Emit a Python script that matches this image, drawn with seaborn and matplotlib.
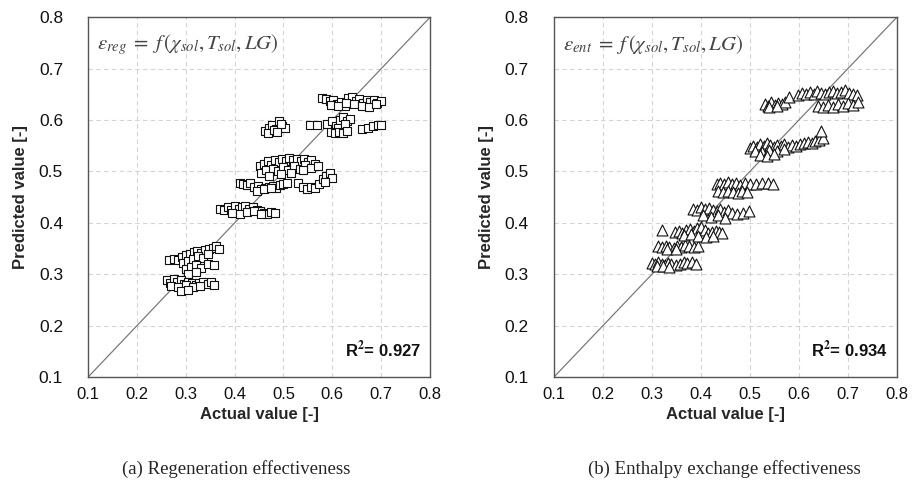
import numpy as np
import pandas as pd
import matplotlib
matplotlib.use("Agg")
import matplotlib.pyplot as plt
import seaborn as sns

# ---- Regeneration effectiveness (squares): actual vs predicted ----
reg_a_x = [0.578, 0.588, 0.595, 0.602, 0.610, 0.618, 0.625, 0.632, 0.640, 0.648, 0.655, 0.662,
           0.670, 0.678, 0.685, 0.692, 0.700, 0.598, 0.612, 0.628, 0.645, 0.660, 0.675, 0.690]
reg_a_y = [0.643, 0.641, 0.637, 0.640, 0.632, 0.636, 0.628, 0.642, 0.645, 0.638, 0.641, 0.633,
           0.640, 0.636, 0.639, 0.634, 0.637, 0.630, 0.627, 0.633, 0.631, 0.628, 0.626, 0.632]
reg_b_x = [0.462, 0.470, 0.476, 0.484, 0.490, 0.497, 0.503, 0.468, 0.480, 0.494, 0.486]
reg_b_y = [0.578, 0.585, 0.590, 0.583, 0.598, 0.588, 0.585, 0.574, 0.580, 0.592, 0.576]
reg_c_x = [0.555, 0.568, 0.590, 0.600, 0.607, 0.615, 0.622, 0.630, 0.637, 0.612, 0.625,
           0.598, 0.606, 0.614, 0.622, 0.630, 0.660, 0.672, 0.683, 0.693, 0.700]
reg_c_y = [0.590, 0.590, 0.592, 0.598, 0.588, 0.600, 0.606, 0.598, 0.603, 0.585, 0.592,
           0.576, 0.574, 0.577, 0.575, 0.578, 0.582, 0.585, 0.588, 0.590, 0.591]
reg_d_x = [0.452, 0.460, 0.468, 0.475, 0.482, 0.490, 0.497, 0.505, 0.512, 0.520, 0.527, 0.535,
           0.542, 0.550, 0.557, 0.565, 0.455, 0.465, 0.478, 0.488, 0.500, 0.510, 0.522, 0.533,
           0.545, 0.556, 0.570, 0.470, 0.495, 0.515, 0.540]
reg_d_y = [0.510, 0.515, 0.520, 0.512, 0.522, 0.518, 0.524, 0.520, 0.526, 0.522, 0.525, 0.520,
           0.524, 0.518, 0.523, 0.515, 0.498, 0.502, 0.505, 0.500, 0.508, 0.503, 0.510, 0.505,
           0.512, 0.507, 0.510, 0.492, 0.495, 0.498, 0.502]
reg_e_x = [0.530, 0.540, 0.548, 0.556, 0.565, 0.572, 0.580, 0.588, 0.595, 0.600, 0.585]
reg_e_y = [0.478, 0.470, 0.466, 0.470, 0.468, 0.475, 0.485, 0.492, 0.498, 0.488, 0.480]
reg_f_x = [0.410, 0.418, 0.425, 0.432, 0.440, 0.447, 0.455, 0.462, 0.470, 0.478, 0.485, 0.493,
           0.500, 0.507, 0.445, 0.460, 0.475]
reg_f_y = [0.478, 0.476, 0.474, 0.477, 0.470, 0.472, 0.466, 0.468, 0.470, 0.472, 0.468, 0.474,
           0.476, 0.478, 0.463, 0.465, 0.467]
reg_g_x = [0.370, 0.378, 0.386, 0.393, 0.400, 0.408, 0.415, 0.422, 0.430, 0.438, 0.445, 0.452,
           0.460, 0.467, 0.475, 0.483, 0.395, 0.410, 0.425, 0.440, 0.455]
reg_g_y = [0.428, 0.425, 0.430, 0.426, 0.432, 0.428, 0.430, 0.433, 0.427, 0.430, 0.426, 0.424,
           0.420, 0.418, 0.422, 0.420, 0.420, 0.418, 0.422, 0.424, 0.417]
reg_h_x = [0.265, 0.275, 0.285, 0.293, 0.300, 0.308, 0.316, 0.324, 0.332, 0.340, 0.348, 0.355,
           0.362, 0.368, 0.295, 0.305, 0.315, 0.325, 0.335, 0.345, 0.300, 0.310, 0.320, 0.332,
           0.345, 0.358, 0.305, 0.320]
reg_h_y = [0.327, 0.330, 0.328, 0.333, 0.338, 0.340, 0.343, 0.345, 0.342, 0.348, 0.350, 0.352,
           0.355, 0.350, 0.322, 0.325, 0.330, 0.335, 0.332, 0.340, 0.310, 0.315, 0.318, 0.312,
           0.320, 0.318, 0.300, 0.305]
reg_i_x = [0.262, 0.268, 0.275, 0.282, 0.290, 0.297, 0.305, 0.312, 0.320, 0.328, 0.336, 0.345,
           0.352, 0.358, 0.270, 0.285, 0.300, 0.315, 0.330, 0.290, 0.305]
reg_i_y = [0.288, 0.283, 0.290, 0.285, 0.288, 0.282, 0.286, 0.284, 0.280, 0.283, 0.285, 0.282,
           0.286, 0.280, 0.278, 0.276, 0.279, 0.275, 0.277, 0.268, 0.270]

# ---- Enthalpy exchange effectiveness (triangles): actual vs predicted ----
ent_1_x = [0.300, 0.307, 0.313, 0.320, 0.327, 0.333, 0.340, 0.350, 0.358, 0.365, 0.372, 0.382,
           0.390, 0.310, 0.322, 0.336]
ent_1_y = [0.322, 0.320, 0.323, 0.321, 0.319, 0.322, 0.320, 0.318, 0.321, 0.324, 0.322, 0.323,
           0.321, 0.316, 0.317, 0.315]
ent_2_x = [0.312, 0.320, 0.328, 0.336, 0.345, 0.352, 0.360, 0.368, 0.376, 0.385, 0.395, 0.330,
           0.350, 0.320]
ent_2_y = [0.355, 0.353, 0.356, 0.354, 0.352, 0.356, 0.354, 0.357, 0.355, 0.353, 0.356, 0.349,
           0.350, 0.386]
ent_3_x = [0.348, 0.355, 0.362, 0.370, 0.378, 0.385, 0.392, 0.400, 0.408, 0.415, 0.422, 0.430,
           0.437, 0.444, 0.365, 0.380, 0.395, 0.410, 0.425]
ent_3_y = [0.383, 0.385, 0.381, 0.386, 0.388, 0.384, 0.390, 0.392, 0.386, 0.380, 0.382, 0.385,
           0.383, 0.381, 0.376, 0.378, 0.374, 0.372, 0.375]
ent_4_x = [0.384, 0.392, 0.400, 0.408, 0.416, 0.424, 0.432, 0.440, 0.448, 0.456, 0.464, 0.474,
           0.486, 0.498, 0.405, 0.420, 0.435, 0.450]
ent_4_y = [0.428, 0.425, 0.430, 0.427, 0.429, 0.426, 0.424, 0.428, 0.422, 0.425, 0.420, 0.418,
           0.420, 0.423, 0.415, 0.412, 0.416, 0.410]
ent_5_x = [0.432, 0.440, 0.448, 0.456, 0.464, 0.472, 0.480, 0.490, 0.500, 0.512, 0.525, 0.537,
           0.548, 0.435, 0.445, 0.455, 0.465, 0.475, 0.485, 0.495]
ent_5_y = [0.476, 0.478, 0.475, 0.479, 0.476, 0.477, 0.474, 0.478, 0.476, 0.475, 0.477, 0.478,
           0.476, 0.462, 0.460, 0.463, 0.461, 0.459, 0.462, 0.460]
ent_6_x = [0.500, 0.507, 0.514, 0.521, 0.528, 0.535, 0.542, 0.549, 0.556, 0.563, 0.570, 0.578,
           0.586, 0.594, 0.602, 0.610, 0.618, 0.626, 0.634, 0.642, 0.650, 0.510, 0.525, 0.540,
           0.555, 0.570, 0.520, 0.535, 0.550, 0.645]
ent_6_y = [0.545, 0.550, 0.548, 0.553, 0.549, 0.555, 0.551, 0.548, 0.552, 0.550, 0.553, 0.548,
           0.552, 0.550, 0.553, 0.556, 0.558, 0.556, 0.560, 0.562, 0.565, 0.540, 0.538, 0.542,
           0.540, 0.544, 0.532, 0.530, 0.534, 0.578]
ent_7_x = [0.530, 0.537, 0.544, 0.551, 0.558, 0.565, 0.572, 0.580, 0.540, 0.555]
ent_7_y = [0.632, 0.628, 0.635, 0.630, 0.634, 0.631, 0.636, 0.645, 0.625, 0.627]
ent_8_x = [0.598, 0.606, 0.614, 0.622, 0.630, 0.638, 0.646, 0.654, 0.662, 0.670, 0.678, 0.686,
           0.694, 0.702, 0.710, 0.718]
ent_8_y = [0.648, 0.652, 0.650, 0.655, 0.651, 0.656, 0.653, 0.650, 0.655, 0.657, 0.652, 0.655,
           0.658, 0.653, 0.650, 0.648]
ent_9_x = [0.640, 0.650, 0.660, 0.670, 0.680, 0.690, 0.700, 0.710, 0.720]
ent_9_y = [0.628, 0.625, 0.630, 0.626, 0.632, 0.628, 0.633, 0.630, 0.635]

ticks = [0.1, 0.2, 0.3, 0.4, 0.5, 0.6, 0.7, 0.8]
tick_labels = ["0.1", "0.2", "0.3", "0.4", "0.5", "0.6", "0.7", "0.8"]
diag = [0.1, 0.8]
r2_values = ["0.927", "0.934"]
formulas = [r"$\varepsilon_{reg}\;=\;f\,(\chi_{sol},T_{sol},LG)$",
            r"$\varepsilon_{ent}\;=\;f\,(\chi_{sol},T_{sol},LG)$"]
captions = ["(a) Regeneration effectiveness", "(b) Enthalpy exchange effectiveness"]

reg = pd.DataFrame({
    "actual": reg_a_x + reg_b_x + reg_c_x + reg_d_x + reg_e_x + reg_f_x + reg_g_x + reg_h_x + reg_i_x,
    "predicted": reg_a_y + reg_b_y + reg_c_y + reg_d_y + reg_e_y + reg_f_y + reg_g_y + reg_h_y + reg_i_y,
})
ent = pd.DataFrame({
    "actual": ent_1_x + ent_2_x + ent_3_x + ent_4_x + ent_5_x + ent_6_x + ent_7_x + ent_8_x + ent_9_x,
    "predicted": ent_1_y + ent_2_y + ent_3_y + ent_4_y + ent_5_y + ent_6_y + ent_7_y + ent_8_y + ent_9_y,
})

sns.set_style("white")
plt.rcParams["font.family"] = ["Liberation Sans", "DejaVu Sans"]
plt.rcParams["mathtext.fontset"] = "stix"

fig = plt.figure(figsize=(9.17, 4.93), dpi=100)
ax1 = fig.add_axes([0.096, 0.235, 0.373, 0.730])
ax2 = fig.add_axes([0.604, 0.235, 0.374, 0.730])

panels = [(ax1, reg, "s", 38), (ax2, ent, "^", 62)]
for i, (ax, df, mk, sz) in enumerate(panels):
    ax.set_xlim(0.1, 0.8)
    ax.set_ylim(0.1, 0.8)
    ax.set_xticks(ticks)
    ax.set_yticks(ticks)
    ax.grid(True, color="#d4d4d4", linestyle=(0, (4, 3)), linewidth=0.8)
    ax.set_axisbelow(True)
    sns.lineplot(x=diag, y=diag, ax=ax, color="#7a7a7a", linewidth=0.9, zorder=2)
    sns.scatterplot(data=df, x="actual", y="predicted", ax=ax, marker=mk, s=sz,
                    facecolor="white", edgecolor="#111111", linewidth=0.8, zorder=3)
    ax.set_xticklabels(tick_labels, fontsize=12)
    ax.set_yticklabels(tick_labels, fontsize=12.5)
    ax.tick_params(axis="x", length=0, pad=7, colors="#111111")
    ax.tick_params(axis="y", length=0, pad=18, colors="#111111")
    for sp in ax.spines.values():
        sp.set_color("#555555")
        sp.set_linewidth(1.0)
    ax.set_xlabel("Actual value [-]", fontsize=12, fontweight="bold", labelpad=4)
    ax.set_ylabel("Predicted value [-]", fontsize=12, fontweight="bold", labelpad=8)
    ax.text(0.118, 0.747, formulas[i], fontsize=15, color="#444444",
            ha="left", va="center")
    ax.text(0.782, 0.154, "R$^{\\mathbf{2}}$= " + r2_values[i], fontsize=12,
            fontweight="bold", ha="right", va="center", color="#111111")

fig.text(0.258, 0.048, captions[0], fontsize=13.5, ha="center", va="center",
         family=["Liberation Serif"])
fig.text(0.790, 0.048, captions[1], fontsize=13.5, ha="center", va="center",
         family=["Liberation Serif"])

fig.savefig("out.png", dpi=100, facecolor="white")
